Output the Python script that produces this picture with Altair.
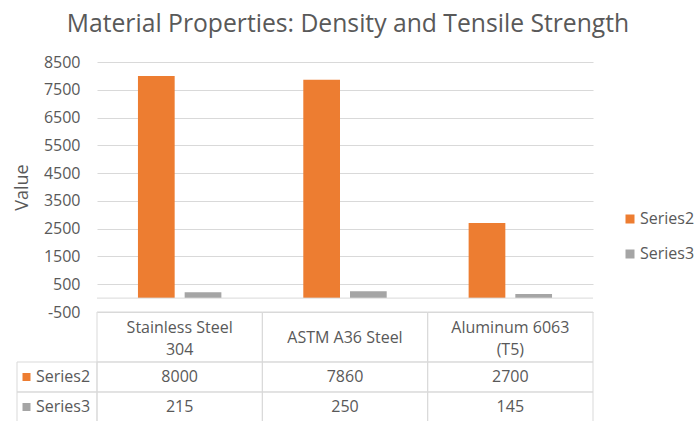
import altair as alt
import pandas as pd

# Chart data
materials = ["Stainless Steel 304", "ASTM A36 Steel", "Aluminum 6063 (T5)"]
header_labels = ["Stainless Steel\n304", "ASTM A36 Steel", "Aluminum 6063\n(T5)"]
series_names = ["Series2", "Series3"]
series2 = [8000, 7860, 2700]
series3 = [215, 250, 145]
series_colors = ["#ED7D31", "#A5A5A5"]
y_ticks = [-500, 500, 1500, 2500, 3500, 4500, 5500, 6500, 7500, 8500]

TEXT = "#595959"
GRID = "#D9D9D9"
FONT = "Open Sans"
FS = 16

# layout of the plot region and the data table underneath it
PLOT_W = 496
PLOT_H = 250
HEADER_H = 50
ROW_H = 30
LINE_H = 21.5
TABLE_H = HEADER_H + 2 * ROW_H
Y_MIN, Y_MAX = -500, 8500
units_per_px = (Y_MAX - Y_MIN) / PLOT_H
y_domain_low = Y_MIN - TABLE_H * units_per_px

rows = []
for name, vals in zip(series_names, [series2, series3]):
    for m, v in zip(materials, vals):
        rows.append({"material": m, "series": name, "value": v})
df = pd.DataFrame(rows)
header_df = pd.DataFrame({
    "material": materials,
    "header": header_labels,
    "nlines": [h.count("\n") + 1 for h in header_labels],
})
series_df = pd.DataFrame({"series": series_names, "color": series_colors})

x_enc = alt.X("material:N", sort=materials, axis=None,
              scale=alt.Scale(paddingInner=0, paddingOuter=0))

y_scale = alt.Scale(domain=[y_domain_low, Y_MAX], nice=False, zero=False)
y_axis = alt.Axis(values=y_ticks, title="Value", titleY=PLOT_H / 2,
                  labelExpr="'' + datum.value", labelOverlap=False,
                  grid=True, gridColor=GRID, ticks=False, domain=False,
                  labelColor=TEXT, labelFontSize=FS, labelFont=FONT,
                  labelPadding=17, titleColor=TEXT, titleFontSize=18,
                  titleFont=FONT, titleFontWeight="normal", titlePadding=12)

bars = alt.Chart(df).mark_bar().encode(
    x=x_enc,
    xOffset=alt.XOffset("series:N", sort=series_names,
                        scale=alt.Scale(paddingInner=0.214, paddingOuter=0.877)),
    y=alt.Y("value:Q", scale=y_scale, axis=y_axis),
    y2=alt.Y2(datum=0),
    color=alt.Color("series:N", sort=series_names,
                    scale=alt.Scale(domain=series_names, range=series_colors),
                    legend=alt.Legend(title=None, orient="none", legendX=525,
                                      legendY=149, symbolType="square",
                                      symbolSize=81, symbolStrokeWidth=0,
                                      labelFontSize=FS, labelFont=FONT,
                                      labelColor=TEXT, rowPadding=19,
                                      labelOffset=2, padding=0)),
)

# horizontal axis line at zero
zero_line = alt.Chart(pd.DataFrame({"value": [0]})).mark_rule(
    color=GRID, strokeWidth=1).encode(
    y=alt.Y("value:Q", scale=y_scale, axis=y_axis))

# data table: header row with the category names
cell_style = dict(fill="white", fillOpacity=0, stroke=GRID, strokeWidth=1)
header_mid = PLOT_H + HEADER_H / 2 + 1
header_cells = alt.Chart(header_df).mark_rect(**cell_style).encode(
    x=x_enc, y=alt.value(PLOT_H), y2=alt.value(PLOT_H + HEADER_H))
header_one = alt.Chart(header_df).transform_filter(
    alt.datum.nlines == 1).mark_text(
    font=FONT, fontSize=FS, color=TEXT, baseline="middle").encode(
    x=x_enc, y=alt.value(header_mid), text="header:N")
header_two = alt.Chart(header_df).transform_filter(
    alt.datum.nlines == 2).mark_text(
    font=FONT, fontSize=FS, color=TEXT, lineBreak="\n", lineHeight=LINE_H,
    baseline="middle").encode(
    x=x_enc, y=alt.value(header_mid - LINE_H / 2 + 1), text="header:N")

layers = [bars, zero_line, header_cells, header_one, header_two]

for i, (name, col) in enumerate(zip(series_names, series_colors)):
    top = PLOT_H + HEADER_H + i * ROW_H
    mid = top + ROW_H / 2
    row = alt.Chart(df).transform_filter(alt.datum.series == name)
    layers.append(row.mark_rect(**cell_style).encode(
        x=x_enc, y=alt.value(top), y2=alt.value(top + ROW_H)))
    layers.append(row.mark_text(font=FONT, fontSize=FS, color=TEXT,
                                baseline="middle").encode(
        x=x_enc, y=alt.value(mid), text="value:Q"))
    lab = alt.Chart(series_df).transform_filter(alt.datum.series == name)
    layers.append(lab.mark_rect(**cell_style).encode(
        x=alt.value(-80), x2=alt.value(0),
        y=alt.value(top), y2=alt.value(top + ROW_H)))
    layers.append(lab.mark_square(size=64, filled=True, opacity=1).encode(
        x=alt.value(-70.5), y=alt.value(mid),
        color=alt.Color("color:N", scale=None)))
    layers.append(lab.mark_text(font=FONT, fontSize=FS, color=TEXT,
                                align="left", baseline="middle").encode(
        x=alt.value(-61), y=alt.value(mid), text="series:N"))

chart = alt.layer(*layers).properties(
    width=PLOT_W,
    height=PLOT_H + TABLE_H,
    background="white",
    title=alt.Title("Material Properties: Density and Tensile Strength",
                    font=FONT, fontSize=24.7, fontWeight="normal", color=TEXT,
                    anchor="middle", offset=17, dx=3),
    padding={"left": 97, "top": 62, "right": 101, "bottom": 0},
    autosize=alt.AutoSizeParams(type="none"),
).configure_view(stroke=None)

chart.save("out.html", embed_options={"renderer": "svg", "actions": False})
